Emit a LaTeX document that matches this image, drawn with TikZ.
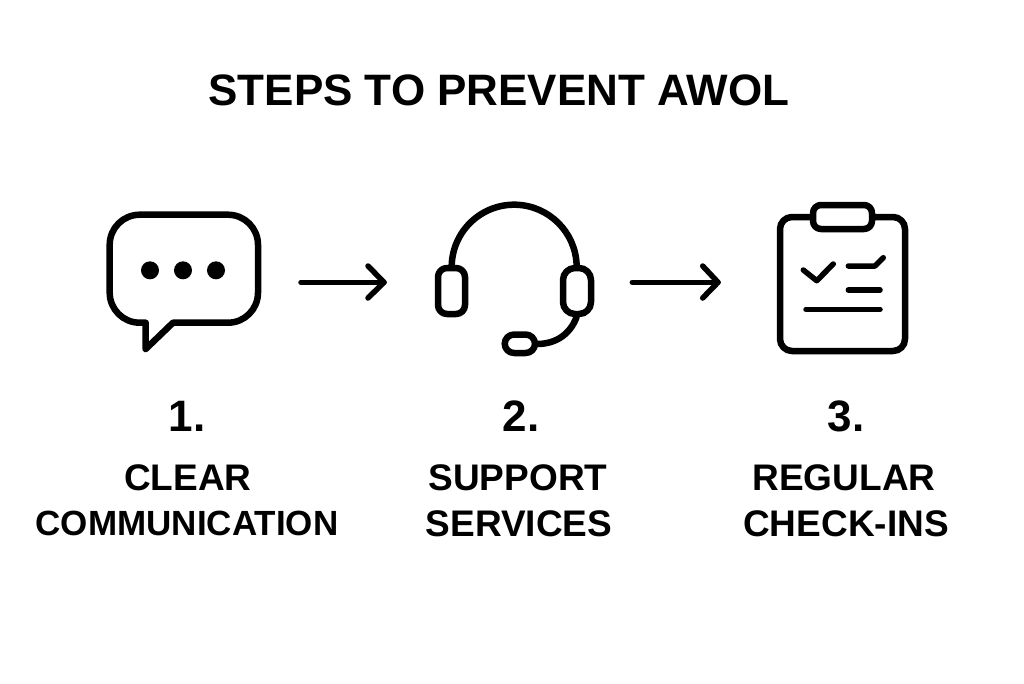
\documentclass[tikz,border=0pt]{standalone}
\usepackage{fontspec}
\setmainfont{Liberation Sans Bold}
\tikzset{
  x=1pt,y=-1pt,
  ico/.style={line width=6.5pt,line join=round,line cap=round,black},
  ln/.style={line width=5.5pt,line join=round,line cap=round,black},
  title/.style={font=\fontsize{44}{46}\selectfont,inner sep=0,anchor=center},
  num/.style={font=\fontsize{44}{46}\selectfont,inner sep=0,anchor=center},
  lab/.style={font=\fontsize{37}{39}\selectfont,inner sep=0,anchor=center},
  labsm/.style={font=\fontsize{35}{37}\selectfont,inner sep=0,anchor=center},
}
\begin{document}
\begin{tikzpicture}
\useasboundingbox (0,0) rectangle (1024,683);
\fill[white] (0,0) rectangle (1024,683);
\node[title] (t) at (499,90) {STEPS TO PREVENT AWOL};
% bubble
\draw[ico] (145.7,322.7) -- (145.7,349) -- (173,322.7) -- (228,322.7)
  arc[start angle=90,end angle=0,radius=30] -- (258,244.7)
  arc[start angle=0,end angle=-90,radius=30] -- (139.7,214.7)
  arc[start angle=-90,end angle=-180,radius=30] -- (109.7,292.7)
  arc[start angle=180,end angle=90,radius=30] -- cycle;
\foreach \x in {150,183,216} \fill (\x,270.3) circle[radius=9];
% arrow 1
\coordinate (a1s) at (301,282.3); \coordinate (a1e) at (384,282.3);
\coordinate (a1u) at (368,266); \coordinate (a1d) at (368,298);
\draw[ln] (a1s) -- (a1e); \draw[ln] (a1u) -- (a1e) -- (a1d);
% headset
\draw[ico] (451.7,265) arc[start angle=-178,end angle=-2,radius=62.5];
\draw[ico,rounded corners=9pt] (438,268) rectangle (465,314);
\draw[ico,rounded corners=12pt] (563,268) rectangle (591,314);
\draw[ico] (576.7,316.7) .. controls (570,335) and (555,344) .. (537,344);
\draw[ico,rounded corners=9.4pt] (504.7,334.5) rectangle (535,353);
% arrow 2
\coordinate (a2s) at (632.3,282.3); \coordinate (a2e) at (718,282.3);
\coordinate (a2u) at (702.7,266); \coordinate (a2d) at (702.7,298);
\draw[ln] (a2s) -- (a2e); \draw[ln] (a2u) -- (a2e) -- (a2d);
% clipboard
\draw[ico,rounded corners=12pt] (780,217) rectangle (905,351);
\draw[ico,rounded corners=8pt,fill=white] (813,205) rectangle (872,229);
\draw[ln] (803.3,270) -- (816.7,280.7) -- (833.3,264);
\draw[ln] (848.3,266) -- (875,266) -- (883.3,257.7);
\draw[ln] (848.3,290) -- (880,290);
\draw[ln] (806,309.3) -- (880,309.3);
% text
\node[num] (n1) at (187,416) {1.};
\node[num] (n2) at (521,416) {2.};
\node[num] (n3) at (846,416) {3.};
\node[lab] (l1a) at (188,478) {CLEAR};
\node[labsm] (l1b) at (187,523) {COMMUNICATION};
\node[lab] (l2a) at (518,478) {SUPPORT};
\node[lab] (l2b) at (519,524) {SERVICES};
\node[lab] (l3a) at (844,478) {REGULAR};
\node[lab] (l3b) at (846,524) {CHECK-INS};
\end{tikzpicture}
\end{document}
